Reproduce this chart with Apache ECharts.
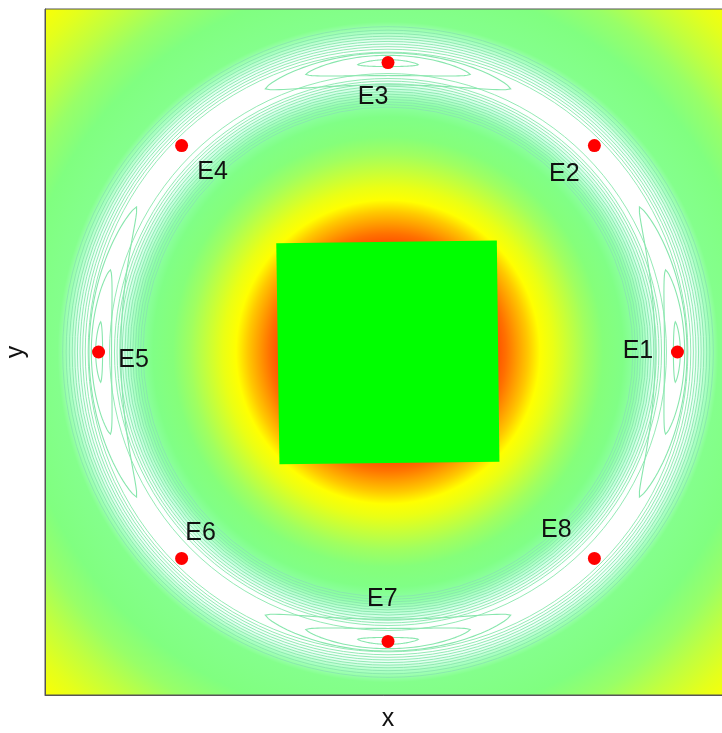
<!DOCTYPE html>
<html>
<head>
<meta charset="utf-8">
<script src="https://cdn.jsdelivr.net/npm/echarts@6/dist/echarts.min.js"></script>
<style>
  html, body { margin: 0; padding: 0; background: #ffffff; }
  #chart { width: 722px; height: 733px; }
</style>
</head>
<body>
<div id="chart"></div>
<script>
// Electrodes around the sensor ring
const electrodeNames = ['E1', 'E2', 'E3', 'E4', 'E5', 'E6', 'E7', 'E8'];
const electrodeX = [1.0, 0.713, 0.0, -0.713, -1.0, -0.713, 0.0, 0.713];
const electrodeY = [0.0, 0.713, 1.0, 0.713, 0.0, -0.713, -1.0, -0.713];

// Object inside the sensor (corners, counter-clockwise from top-left)
const objectX = [-0.386, 0.376, 0.385, -0.375];
const objectY = [0.376, 0.385, -0.379, -0.388];

// Field levels: distance from the centre and the colour of that level
const levelRadius = [0, 0.373, 0.408, 0.442, 0.484, 0.525, 0.570, 0.622, 0.684, 0.743,
  0.812, 0.864, 0.906, 0.933, 0.954, 1.044, 1.072, 1.106, 1.141, 1.279, 1.383, 1.486, 1.590, 1.694];
const levelColor = ['#ff3800', '#ff5000', '#ff7000', '#ff9800', '#ffc800', '#ffff00', '#eaff15',
  '#c8ff38', '#a0ff60', '#85ff7a', '#80ff86', '#90ffa8', '#c8ffe0', '#f4fffa', '#ffffff', '#ffffff',
  '#e8fff4', '#a8ffc0', '#84ff8c', '#80ff80', '#98ff68', '#c0ff40', '#e4ff1c', '#ffff00'];

// Iso-lines running along the ring
const ringLineRadius = [0.846, 0.855, 0.864, 0.873, 0.882, 0.891, 0.900, 0.909, 0.918, 0.927,
  0.936, 0.945, 0.962, 1.036, 1.046, 1.055, 1.064, 1.073, 1.082, 1.091, 1.101, 1.112, 1.124];

// Closed iso-lines around the electrodes on the axes (nested levels)
const lobeCentreAngle = [0, 90, 180, 270];
const lobeOuterHalfAngle = [30, 25, 30, 25];
const lobeMidRadius = [0.998, 0.99, 0.978];
const lobeHalfWidth = [0.012, 0.035, 0.055];
const lobeHalfAngle = [6, 16.5, null];
const lobeTipLift = [0, 0.01, 0.025];

// Label placement around each electrode marker (pixels)
const labelOffset = [[-39.5, -0.5], [-30, 28], [-15, 35], [31, 26.5], [35, 8], [19, -25], [-5.7, -42.7], [-38, -28]];

const FONT = '"Liberation Sans", Arial, sans-serif';
const LINE_COLOR = '#88e6ad';

function clipRect(params) {
  const cs = params.coordSys;
  return { type: 'rect', shape: { x: cs.x, y: cs.y, width: cs.width, height: cs.height } };
}

function renderField(params, api) {
  const c = api.coord([api.value(0), api.value(1)]);
  const rMax = levelRadius[levelRadius.length - 1];
  const R = api.size([rMax, 0])[0];
  const stops = levelRadius.map((r, i) => ({ offset: r / rMax, color: levelColor[i] }));
  return {
    type: 'group',
    clipPath: clipRect(params),
    children: [{
      type: 'circle',
      shape: { cx: c[0], cy: c[1], r: R },
      style: { fill: { type: 'radial', x: 0.5, y: 0.5, r: 0.5, colorStops: stops, global: false } }
    }]
  };
}

function renderRingLine(params, api) {
  const c = api.coord([0, 0]);
  const R = api.size([api.value(0), 0])[0];
  return {
    type: 'group',
    clipPath: clipRect(params),
    children: [{
      type: 'circle',
      shape: { cx: c[0], cy: c[1], r: R },
      style: { fill: 'none', stroke: LINE_COLOR, lineWidth: 0.9 }
    }]
  };
}

function renderLobe(params, api) {
  const ang = api.value(0) * Math.PI / 180;
  const r0 = api.value(1);
  const hw = api.value(2);
  const ha = api.value(3) * Math.PI / 180;
  const lift = api.value(4);
  const n = 60;
  const outer = [];
  const inner = [];
  for (let k = 0; k <= n; k++) {
    const t = -1 + 2 * k / n;
    const w = hw * Math.pow(Math.max(0, 1 - t * t), 0.7);
    const mid = r0 + lift * t * t;
    const a = ang + t * ha;
    outer.push(api.coord([(mid + w) * Math.cos(a), (mid + w) * Math.sin(a)]));
    inner.push(api.coord([(mid - w) * Math.cos(a), (mid - w) * Math.sin(a)]));
  }
  return {
    type: 'group',
    clipPath: clipRect(params),
    children: [{
      type: 'polygon',
      shape: { points: outer.concat(inner.reverse()) },
      style: { fill: 'none', stroke: LINE_COLOR, lineWidth: 1.1 }
    }]
  };
}

function renderObject(params, api) {
  const pts = [];
  for (let i = 0; i < 4; i++) pts.push(api.coord([api.value(2 * i), api.value(2 * i + 1)]));
  return { type: 'polygon', shape: { points: pts }, style: { fill: '#00ff00', stroke: null } };
}

const lobeData = [];
lobeCentreAngle.forEach((a, e) => {
  lobeMidRadius.forEach((r, j) => {
    const half = lobeHalfAngle[j] === null ? lobeOuterHalfAngle[e] : lobeHalfAngle[j];
    lobeData.push([a, r, lobeHalfWidth[j], half, lobeTipLift[j]]);
  });
});

const objectItem = [];
objectX.forEach((x, i) => { objectItem.push(x, objectY[i]); });

const electrodeData = electrodeNames.map((name, i) => ({
  name: name,
  value: [electrodeX[i], electrodeY[i]],
  label: { offset: labelOffset[i] }
}));

const chart = echarts.init(document.getElementById('chart'), null, { renderer: 'canvas' });
chart.setOption({
  animation: false,
  backgroundColor: '#ffffff',
  grid: {
    left: 45, top: 9, width: 686, height: 686, outerBoundsMode: 'none', containLabel: false,
    show: true, borderColor: '#555555', borderWidth: 1, z: 10, backgroundColor: 'transparent'
  },
  xAxis: {
    type: 'value', min: -1.185, max: 1.185, z: 10,
    name: 'x', nameLocation: 'middle', nameGap: 12,
    nameTextStyle: { fontFamily: FONT, fontSize: 25, color: '#111111' },
    axisLine: { show: true, onZero: false, lineStyle: { color: '#555555', width: 1 } },
    axisTick: { show: false }, axisLabel: { show: false }, splitLine: { show: false }
  },
  yAxis: {
    type: 'value', min: -1.185, max: 1.185, z: 10,
    name: 'y', nameLocation: 'middle', nameGap: 16,
    nameTextStyle: { fontFamily: FONT, fontSize: 25, color: '#111111' },
    axisLine: { show: true, onZero: false, lineStyle: { color: '#555555', width: 1 } },
    axisTick: { show: false }, axisLabel: { show: false }, splitLine: { show: false }
  },
  series: [
    { type: 'custom', name: 'field', z: 1, silent: true, renderItem: renderField, data: [[0, 0]] },
    { type: 'custom', name: 'ring lines', z: 2, silent: true, renderItem: renderRingLine, data: ringLineRadius.map(r => [r, 0]) },
    { type: 'custom', name: 'lobes', z: 3, silent: true, renderItem: renderLobe, data: lobeData },
    { type: 'custom', name: 'object', z: 4, silent: true, renderItem: renderObject, data: [objectItem] },
    {
      type: 'scatter', name: 'electrodes', z: 5, symbol: 'circle', symbolSize: 13,
      itemStyle: { color: '#ff0000', opacity: 1 },
      label: {
        show: true, position: 'inside', formatter: '{b}', fontFamily: FONT, fontSize: 25,
        color: '#111111', textBorderWidth: 0, textBorderColor: 'transparent'
      },
      data: electrodeData
    }
  ]
});
</script>
</body>
</html>
